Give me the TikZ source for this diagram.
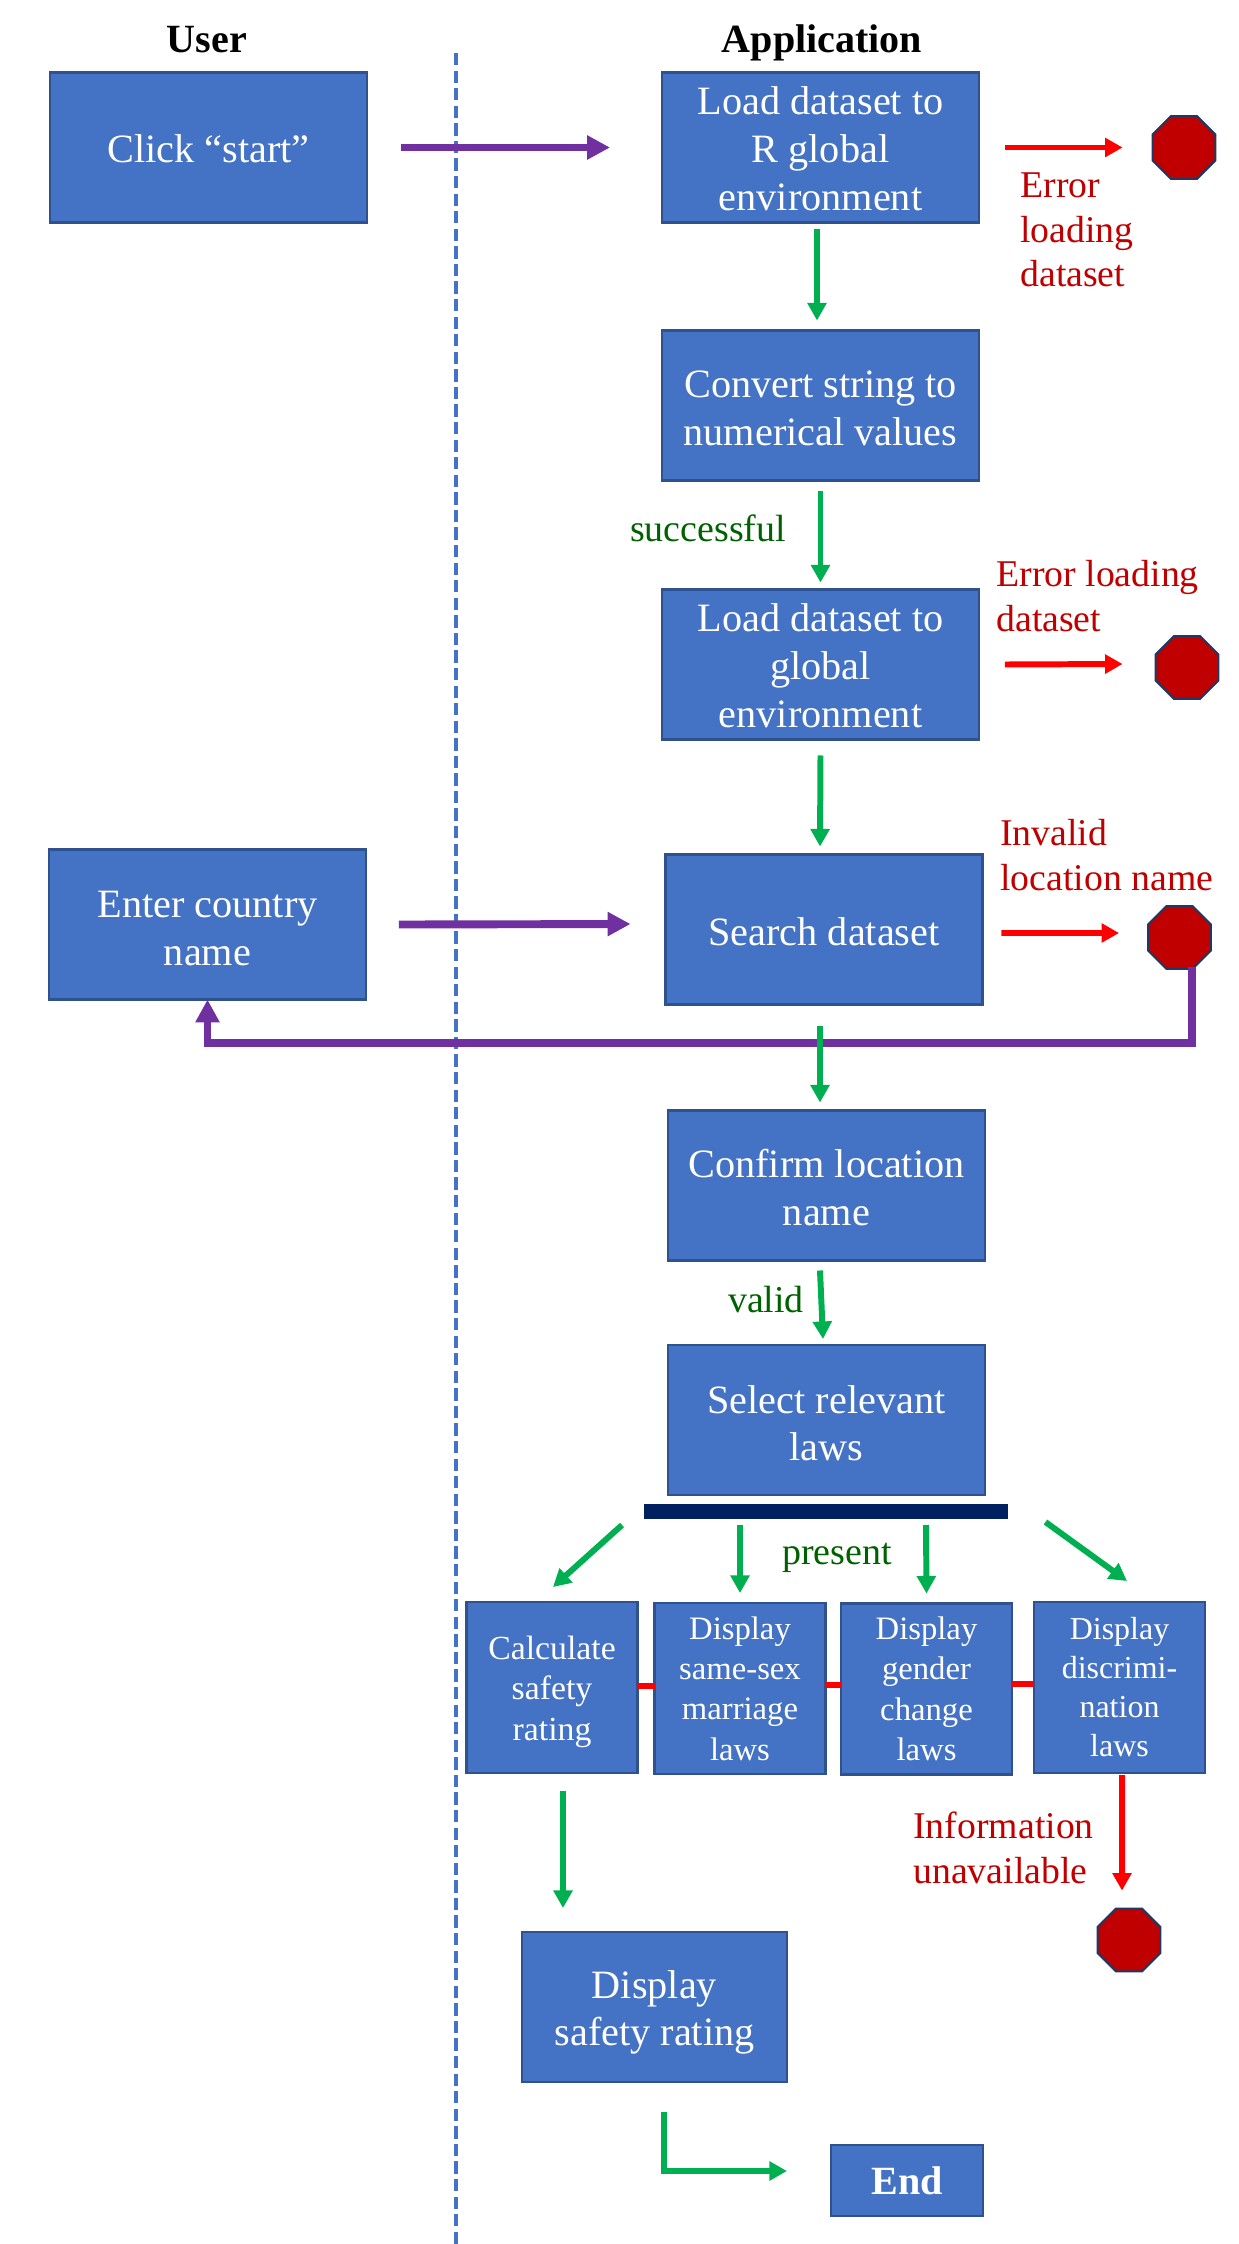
\documentclass[tikz,border=0pt]{standalone}
\usepackage{fontspec}
\setmainfont{Liberation Serif}
\usetikzlibrary{arrows.meta,calc,shapes.geometric}
\definecolor{boxblue}{HTML}{4472C4}
\definecolor{boxedge}{HTML}{2F528F}
\definecolor{stopred}{HTML}{C00000}
\definecolor{stopedge}{HTML}{1F3864}
\definecolor{flowgreen}{HTML}{00B050}
\definecolor{labelgreen}{HTML}{006100}
\definecolor{flowpurple}{HTML}{7030A0}
\definecolor{barnavy}{HTML}{002060}
\newcommand{\lift}[1]{\rule{0pt}{#1pt}}
\tikzset{
	basebox/.style={draw=boxedge,line width=1.2pt,fill=boxblue,text=white,align=center,outer sep=0pt,inner sep=0pt},
	bigbox/.style={basebox,minimum width=6.34cm,minimum height=3cm,font=\fontsize{22.9}{27.2}\selectfont},
	lawbox/.style={basebox,minimum width=3.42cm,minimum height=3.42cm,font=\fontsize{18.6}{23}\selectfont},
	stopsign/.style={draw=stopedge,line width=1.2pt,fill=stopred,regular polygon,regular polygon sides=8,minimum size=1.36cm,inner sep=0pt,outer sep=0pt},
	errlabel/.style={text=stopred,align=left,inner sep=0pt,font=\fontsize{21.5}{25.2}\selectfont},
	oklabel/.style={text=labelgreen,inner sep=0pt,font=\fontsize{21.6}{25.2}\selectfont},
	headlabel/.style={inner sep=0pt,font=\fontsize{22.8}{27}\selectfont\bfseries},
	greenarrow/.style={line width=3.4pt,flowgreen,-{Triangle[length=10pt,width=10.5pt]}},
	redarrow/.style={line width=3.4pt,red,-{Triangle[length=10pt,width=10.5pt]}},
	purplearrow/.style={line width=4.5pt,flowpurple,-{Triangle[length=13pt,width=13pt]}}
}
\begin{document}
\begin{tikzpicture}[x=0.02cm,y=-0.02cm]
		\useasboundingbox (0,0) rectangle (1239,2244);
		\coordinate (DashTop) at (456,53);
		\coordinate (DashEnd) at (456,2244);
		\draw[line width=1.9pt,boxblue,dash pattern=on 7pt off 3pt] (DashTop)--(DashEnd);

		\node[headlabel] (UserHead) at (207,39.5) {User};
		\node[headlabel] (AppHead) at (822,43) {Application};

		\node[bigbox] (Click) at (208.5,147.5) {\lift{17.2}Click “start”};
		\node[bigbox] (LoadR) at (820.5,147.5) {\lift{17.2}Load dataset to\\R global\\environment};
		\node[bigbox] (Convert) at (820.5,405.5) {\lift{18}Convert string to\\numerical values};
		\node[bigbox] (LoadG) at (820.5,664.5) {\lift{17.2}Load dataset to\\global\\environment};
		\node[bigbox] (Enter) at (207.5,924.5) {\lift{19.6}Enter country\\name};
		\node[bigbox] (Search) at (824,929.5) {\lift{18.8}Search dataset};
		\node[bigbox] (Confirm) at (826.5,1185.5) {\lift{18}Confirm location\\name};
		\node[bigbox] (Select) at (826.5,1420) {\lift{19.6}Select relevant\\laws};
		\node[fill=barnavy,minimum width=7.28cm,minimum height=0.3cm,inner sep=0pt,outer sep=0pt] (Bar) at (826,1511.5) {};
		\node[lawbox,font=\fontsize{19.2}{23.1}\selectfont] (Calc) at (552,1687.5) {\lift{17.9}Calculate\\safety\\rating};
		\node[lawbox] (SameSex) at (740,1688.5) {Display\\same-sex\\marriage\\laws};
		\node[lawbox] (Gender) at (926.5,1689) {Display\\gender\\change\\laws};
		\node[lawbox,font=\fontsize{18.2}{22.2}\selectfont] (Discrim) at (1119.5,1687.5) {Display\\discrimi-\\nation\\laws};
		\node[bigbox,minimum width=5.3cm] (Safety) at (654.5,2007) {\lift{22}Display\\safety rating};
		\node[basebox,minimum width=3.04cm,minimum height=1.42cm,font=\fontsize{22.8}{27}\selectfont\bfseries] (End) at (907,2180.5) {End};

		\node[stopsign] (StopA) at (1184,147.5) {};
		\node[stopsign] (StopB) at (1187,667.5) {};
		\node[stopsign] (StopC) at (1179.5,937.5) {};
		\node[stopsign] (StopD) at (1129,1940) {};

		\node[errlabel,anchor=west] (ErrA) at (1020,230) {Error\\loading\\dataset};
		\node[errlabel,anchor=west] (ErrB) at (996,596) {Error loading\\dataset};
		\node[errlabel,anchor=west] (ErrC) at (1000,855) {Invalid\\location name};
		\node[errlabel,anchor=west] (ErrD) at (913,1848) {Information\\unavailable};
		\node[oklabel] (OkA) at (708,528) {successful};
		\node[oklabel] (OkB) at (766,1300) {valid};
		\node[oklabel] (OkC) at (837,1558) {present};

		\draw[purplearrow] ($(Click.east)+(34,0)$)--($(LoadR.west)+(-52,0)$);
		\draw[purplearrow] ($(Enter.east)+(33,0)$)--($(Search.west)+(-35,-5.5)$);
		\draw[purplearrow] ($(StopC.south)+(12.5,-2)$)-- ++(0,76) -|(Enter.south);

		\draw[redarrow] ($(LoadR.east)+(26,0)$)--($(StopA.west)+(-30,0)$);
		\draw[redarrow] ($(LoadG.east)+(26,0)$)--($(StopB.west)+(-33,-3.5)$);
		\draw[redarrow] ($(Search.east)+(19,3.5)$)--($(StopC.west)+(-29,-4.5)$);
		\draw[redarrow] ($(Discrim.south)+(2.5,2)$)--($(StopD.north)+(-7,-18)$);
		\draw[line width=3.4pt,red] ($(Calc.east)+(0,-1.5)$)--($(SameSex.west)+(0,-2.5)$);
		\draw[line width=3.4pt,red] ($(SameSex.east)+(0,-3.5)$)--($(Gender.west)+(0,-4)$);
		\draw[line width=3.4pt,red] ($(Gender.east)+(0,-5)$)--($(Discrim.west)+(0,-3.5)$);

		\draw[greenarrow] ($(LoadR.south)+(-3.5,7)$)--($(Convert.north)+(-3.5,-10)$);
		\draw[greenarrow] ($(Convert.south)+(0,11)$)--($(LoadG.north)+(0,-7)$);
		\draw[greenarrow] ($(LoadG.south)+(0,16)$)--($(Search.north)+(-4,-8)$);
		\draw[greenarrow] ($(Search.south)+(-4,22)$)--($(Confirm.north)+(-6.5,-8)$);
		\draw[greenarrow] ($(Confirm.south)+(-6.5,10)$)--($(Select.north)+(-3.5,-6)$);
		\draw[greenarrow] ($(Bar.south west)+(-22,6)$)--($(Calc.north)+(1,-15)$);
		\draw[greenarrow] ($(Bar.south)+(-86,6)$)--($(SameSex.north)+(0,-10)$);
		\draw[greenarrow] ($(Bar.south)+(100,6)$)--($(Gender.north)+(0,-10)$);
		\draw[greenarrow] ($(Bar.south east)+(37.5,3)$)--($(Discrim.north)+(7.5,-21)$);
		\draw[greenarrow] ($(Calc.south)+(11,18)$)--($(Safety.north)+(-91.5,-24)$);
		\draw[greenarrow] ($(Safety.south)+(9.5,30)$)|-($(End.west)+(-44,-9.5)$);
	\end{tikzpicture}
\end{document}
